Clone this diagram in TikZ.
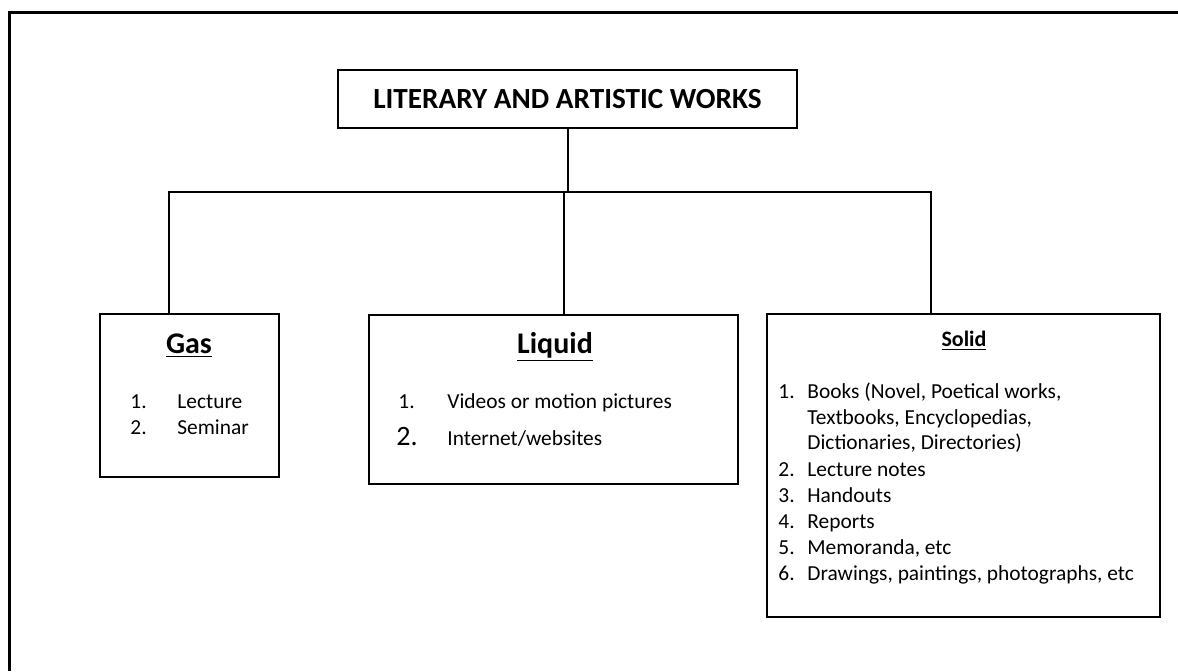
\documentclass[tikz,border=0pt]{standalone}
\usepackage{fontspec}
\setmainfont{Carlito}
\begin{document}
\begin{tikzpicture}[x=0.5pt,y=-0.5pt,
  box/.style={draw, line width=1pt, rectangle, inner sep=0pt},
  txt/.style={inner sep=0pt, anchor=base west, font=\fontsize{10.7}{13}\selectfont},
  head/.style={inner sep=0pt, anchor=base, font=\fontsize{15}{17}\selectfont\bfseries},
  link/.style={line width=1pt},
]
\useasboundingbox (0,0) rectangle (1178,671);
\draw[line width=1.5pt] (9,671) -- (9,12) -- (1178,12);

\node[box, minimum width=229.5pt, minimum height=29pt, font=\fontsize{14.6}{17}\selectfont\bfseries] (title) at (567.5,99) {LITERARY AND ARTISTIC WORKS};
\node[box, minimum width=89.5pt, minimum height=81.5pt] (gas) at (189.5,395.5) {};
\node[box, minimum width=184.5pt, minimum height=84.5pt] (liquid) at (553.5,399.5) {};
\node[box, minimum width=196.5pt, minimum height=151.5pt] (solid) at (963.5,465.5) {};

\coordinate (busL) at (169,192);
\coordinate (busM) at (564,192);
\coordinate (busR) at (931,192);
\draw[link] (title.south) -- (title.south |- busL);
\draw[link] (busL |- gas.north) -- (busL) -- (busR) -- (busR |- solid.north);
\draw[link] (busM) -- (busM |- liquid.north);

% Gas
\node[head] (gash) at (189,353) {\underline{Gas}};
\node[txt] (g1n) at (130,408) {1.};
\node[txt] (g1) at (177,408) {Lecture};
\node[txt] (g2n) at (130,434) {2.};
\node[txt] (g2) at (177,434) {Seminar};

% Liquid
\node[head] (liqh) at (555,353) {\underline{Liquid}};
\node[txt] (l1n) at (398,408) {1.};
\node[txt] (l1) at (447,408) {Videos or motion pictures};
\node[txt, font=\fontsize{14}{16}\selectfont] (l2n) at (396,445) {2.};
\node[txt] (l2) at (447,445) {Internet/websites};

% Solid
\node[head, font=\fontsize{11}{13}\selectfont\bfseries] (solh) at (964,346) {\underline{Solid}};
\node[txt] (s1n) at (778,398) {1.};
\node[txt] (s1) at (807,398) {Books (Novel, Poetical works,};
\node[txt] (s1b) at (807,424) {Textbooks, Encyclopedias,};
\node[txt] (s1c) at (807,449) {Dictionaries, Directories)};
\node[txt] (s2n) at (778,476) {2.};
\node[txt] (s2) at (807,476) {Lecture notes};
\node[txt] (s3n) at (778,502) {3.};
\node[txt] (s3) at (807,502) {Handouts};
\node[txt] (s4n) at (778,528) {4.};
\node[txt] (s4) at (807,528) {Reports};
\node[txt] (s5n) at (778,554) {5.};
\node[txt] (s5) at (807,554) {Memoranda, etc};
\node[txt] (s6n) at (778,580) {6.};
\node[txt] (s6) at (807,580) {Drawings, paintings, photographs, etc};
\end{tikzpicture}
\end{document}
